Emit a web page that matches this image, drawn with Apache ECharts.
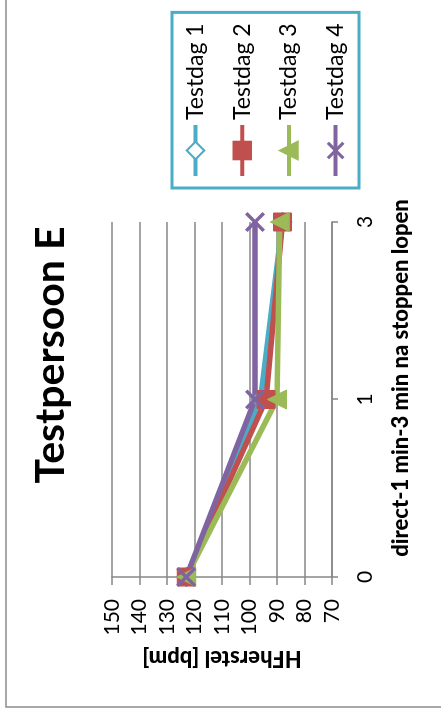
<!DOCTYPE html>
<html>
<head>
<meta charset="utf-8">
<script src="https://cdn.jsdelivr.net/npm/echarts@6/dist/echarts.min.js"></script>
<style>
  html, body { margin: 0; padding: 0; background: #fff; overflow: hidden; }
  /* the chart is drawn upright and then turned a quarter to the left, like the original */
  #wrap {
    position: absolute; left: 0; top: 0;
    width: 717px; height: 441px;
    transform-origin: 0 0;
    transform: translateY(717px) rotate(-90deg);
  }
  #main { width: 717px; height: 441px; }
</style>
</head>
<body>
<div id="wrap"><div id="main"></div></div>
<script>
// data
const categories = ['0', '1', '3'];
const testdag1 = [123, 96, 88];
const testdag2 = [123, 94, 88];
const testdag3 = [123, 90, 89];
const testdag4 = [123, 98, 98];
const seriesNames = ['Testdag 1', 'Testdag 2', 'Testdag 3', 'Testdag 4'];

const FONT = 'Lato';
const GRID_GREY = '#878787';
const crossPath = 'path://M0,1.2L1.2,0L10,8.8L8.8,10Z M8.8,0L10,1.2L1.2,10L0,8.8Z';

function makeSeries(name, data, color, symbol, size, itemStyle) {
    return {
        name: name,
        type: 'line',
        data: data,
        symbol: symbol,
        symbolSize: size,
        lineStyle: { color: color, width: 5.5 },
        itemStyle: itemStyle,
        emphasis: { disabled: true }
    };
}

var myChart = echarts.init(document.getElementById('main'));
var option = {
    animation: false,
    backgroundColor: '#fff',
    textStyle: { fontFamily: FONT },
    title: {
        text: 'Testpersoon E',
        left: 362,
        top: 30,
        padding: 0,
        textAlign: 'center',
        textStyle: { fontFamily: FONT, fontSize: 41, fontWeight: 'bold', color: '#000' }
    },
    legend: {
        orient: 'vertical',
        left: 529,
        top: 172,
        padding: [12, 11, 12, 10],
        borderColor: '#4BACC6',
        borderWidth: 3,
        itemWidth: 51,
        itemHeight: 22,
        itemGap: 23.7,
        selectedMode: false,
        data: seriesNames,
        lineStyle: { width: 4 },
        textStyle: { fontFamily: FONT, fontSize: 23, lineHeight: 22, color: '#000' }
    },
    graphic: [{
        type: 'rect',
        shape: { x: 10, y: 6, width: 760, height: 480 },
        style: { fill: 'none', stroke: '#8c8c8c', lineWidth: 1.5 },
        silent: true
    }],
    grid: { left: 140, top: 112, width: 355, height: 220 },
    xAxis: {
        type: 'category',
        data: categories,
        boundaryGap: false,
        name: 'direct-1 min-3 min na stoppen lopen',
        nameLocation: 'middle',
        nameGap: 58,
        nameTextStyle: { fontFamily: FONT, fontSize: 22, fontWeight: 900, color: '#000', padding: [0, 0, 0, 43] },
        axisLine: { lineStyle: { color: GRID_GREY, width: 1.5 } },
        axisTick: { show: true, length: 6, alignWithLabel: true, lineStyle: { color: GRID_GREY, width: 1.5 } },
        axisLabel: { margin: 23, fontSize: 21, color: '#000', fontFamily: FONT },
        splitLine: { show: false }
    },
    yAxis: {
        type: 'value',
        min: 70,
        max: 150,
        interval: 10,
        name: 'HFherstel [bpm]',
        nameLocation: 'middle',
        nameGap: 70,
        nameTextStyle: { fontFamily: FONT, fontSize: 22, fontWeight: 900, color: '#000' },
        axisLine: { show: true, lineStyle: { color: GRID_GREY, width: 1.5 } },
        axisTick: { show: true, length: 8, lineStyle: { color: GRID_GREY, width: 1.5 } },
        axisLabel: { margin: 22, fontSize: 21, color: '#000', fontFamily: FONT },
        splitLine: { lineStyle: { color: GRID_GREY, width: 1.5 } }
    },
    series: [
        makeSeries(seriesNames[0], testdag1, '#4BACC6', 'diamond', 17,
            { color: '#fff', borderColor: '#4BACC6', borderWidth: 2.5 }),
        makeSeries(seriesNames[1], testdag2, '#C0504D', 'rect', 18,
            { color: '#C0504D', borderColor: '#C0504D', borderWidth: 1 }),
        makeSeries(seriesNames[2], testdag3, '#9BBB59', 'triangle', 19,
            { color: '#9BBB59', borderColor: '#9BBB59', borderWidth: 1 }),
        makeSeries(seriesNames[3], testdag4, '#8064A2', crossPath, 20,
            { color: '#8064A2', borderWidth: 0 })
    ]
};
myChart.setOption(option);
</script>
</body>
</html>
